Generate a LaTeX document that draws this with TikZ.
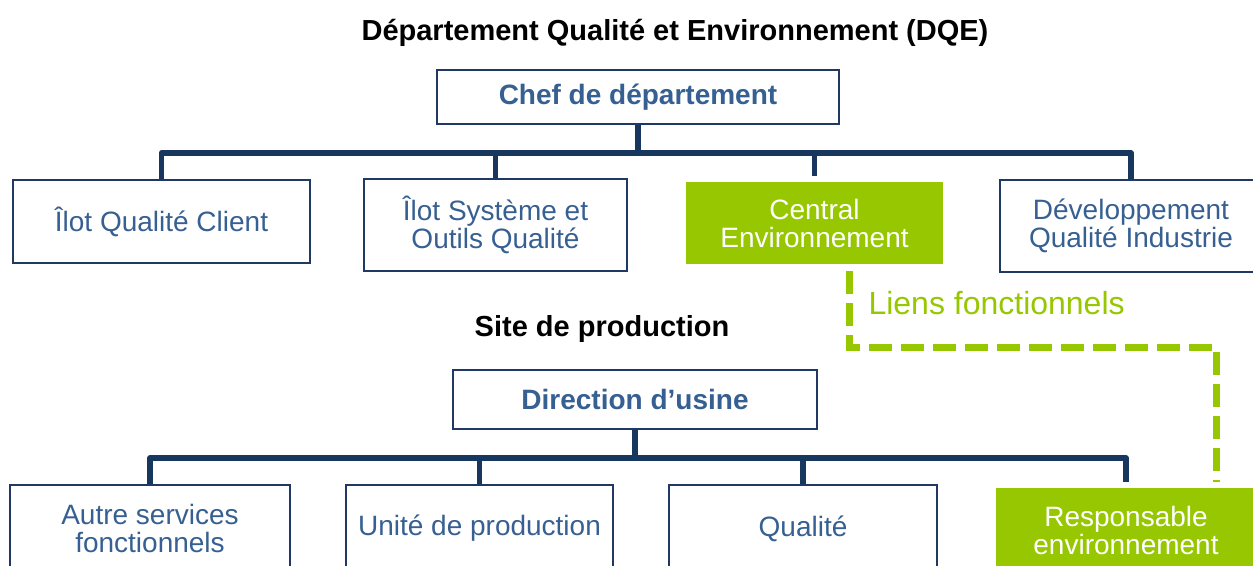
\documentclass[tikz,border=0pt]{standalone}
\usepackage{fontspec}
\setmainfont{Liberation Sans}
\usepackage{xcolor}
\usepackage{tikz}
\usetikzlibrary{positioning, calc}
\definecolor{navy}{RGB}{23,55,94}
\definecolor{boxline}{RGB}{31,56,100}
\definecolor{textblue}{RGB}{55,96,146}
\definecolor{leaf}{RGB}{150,199,0}

\begin{document}
\begin{tikzpicture}[x=1pt, y=-1pt,
    unit/.style={draw=boxline, line width=1.8pt, fill=white, text=textblue,
                 font=\fontsize{28}{28}\selectfont, align=center, inner sep=0pt},
    head/.style={unit, font=\fontsize{28}{28}\selectfont\bfseries},
    envunit/.style={unit, draw=none, fill=leaf, text=white},
    link/.style={draw=navy, line width=5.5pt, line join=round},
    funclink/.style={draw=leaf, line width=7pt, dash pattern=on 23pt off 9pt},
    ttl/.style={font=\fontsize{29}{29}\selectfont\bfseries, text=black, anchor=base}
  ]
  \useasboundingbox (0,0) rectangle (1253,565);
  \clip (0,0) rectangle (1253,565);

  % department
  \node[ttl] (dqe) at (675,40) {Département Qualité et Environnement (DQE)};
  \node[head, minimum width=402, minimum height=54] (chef) at (638,97) {Chef de département};

  \node[unit, minimum width=297, minimum height=83] (ilotclient) at (161.5,221.5) {Îlot Qualité Client};
  \node[unit, minimum width=263, minimum height=92] (ilotsys) at (495.5,225) {Îlot Système et\\Outils Qualité};
  \node[envunit, minimum width=257, minimum height=82] (centralenv) at (814.5,223) {Central\\Environnement};
  \node[unit, minimum width=262, minimum height=92] (devqual) at (1131,226) {Développement\\Qualité Industrie};

  \foreach \n in {ilotclient, ilotsys, devqual}
      \draw[link] (chef.south) -- ++(0,28) -| (\n.north);
  \draw[link, shorten >=5pt] (chef.south) -- ++(0,28) -| (centralenv.north);

  % plant
  \node[ttl] (site) at (602,336) {Site de production};
  \node[head, minimum width=364, minimum height=59] (direction) at (635,399.5) {Direction d’usine};

  \node[unit, minimum width=280, minimum height=87] (autres) at (150,528.5) {Autre services\\fonctionnels};
  \node[unit, minimum width=267, minimum height=87] (unite) at (479.5,528.5) {Unité de production};
  \node[unit, minimum width=268, minimum height=87] (qualite) at (803,528.5) {Qualité};
  \node[envunit, minimum width=260, minimum height=84] (respenv) at (1126,530) {Responsable\\environnement};

  \foreach \n in {autres, unite, qualite}
      \draw[link] (direction.south) -- ++(0,28) -| (\n.north);
  \draw[link, shorten >=5pt] (direction.south) -- ++(0,28) -| (respenv.north);

  % functional link
  \draw[funclink, shorten <=6pt, shorten >=5pt]
       ([xshift=35pt]centralenv.south) -- ++(0,83) -| ([xshift=90pt]respenv.north);
  \node[font=\fontsize{32}{32}\selectfont, text=leaf, anchor=base west] (liens) at (865,314) {Liens fonctionnels};
\end{tikzpicture}
\end{document}
